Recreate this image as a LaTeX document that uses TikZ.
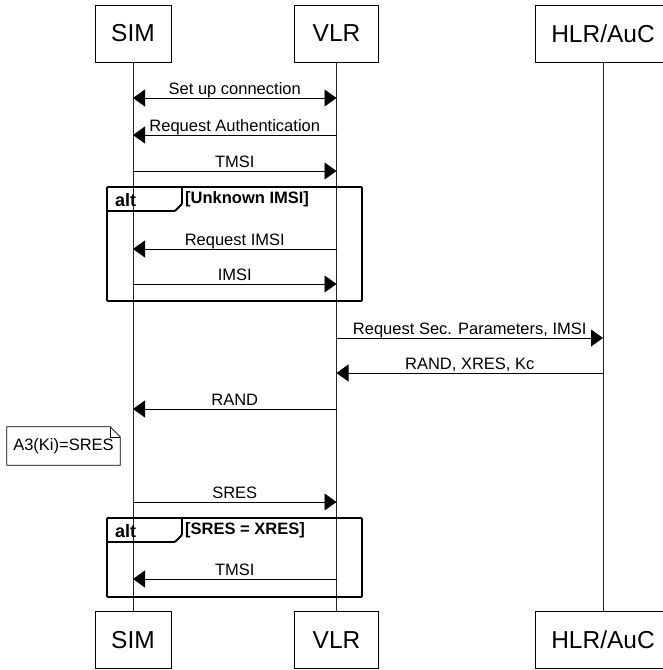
\documentclass[tikz,border=0pt]{standalone}
\usepackage{fontspec}
\setmainfont{Liberation Sans}
\usetikzlibrary{arrows.meta}

\tikzset{
  actor/.style={draw, line width=0.8pt, minimum height=57pt, inner sep=0pt, font=\fontsize{24.5pt}{28pt}\selectfont},
  lifeline/.style={line width=0.8pt, black!85},
  msg/.style={line width=0.9pt},
  msglabel/.style={anchor=base, inner sep=0pt, font=\fontsize{16.5pt}{19pt}\selectfont},
  frame/.style={line width=1.8pt, rounded corners=1pt},
  altlabel/.style={anchor=base west, inner sep=0pt, font=\bfseries\fontsize{18pt}{20pt}\selectfont},
  guard/.style={anchor=base west, inner sep=0pt, font=\bfseries\fontsize{16.5pt}{19pt}\selectfont},
  notebox/.style={minimum width=113pt, minimum height=38pt, inner sep=0pt, font=\fontsize{16.5pt}{19pt}\selectfont},
}

\begin{document}
\begin{tikzpicture}[x=1pt,y=-1pt,>={Triangle[length=12pt,width=17pt]}]
  \useasboundingbox (0,0) rectangle (663,670);

  % participants on top and bottom, with their lifelines
  \foreach \name/\txt/\xc/\w in {sim/SIM/133/76, vlr/VLR/336.5/84, hlr/{HLR/AuC}/603/136} {
    \node[actor, minimum width=\w pt] (\name) at (\xc,33.5) {\txt};
    \node[actor, minimum width=\w pt] (\name-bot) at (\xc,640) {\txt};
    \draw[lifeline] (\name.south) -- (\name-bot.north);
  }

  % the two alt fragments
  \foreach \top/\bot/\cond [count=\i] in {187/301/Unknown IMSI, 518/597/SRES = XRES} {
    \draw[frame] (107,\top) rectangle (362,\bot);
    \draw[frame] (107,\top+24) -- (175,\top+24) -- (182,\top+17) -- (182,\top);
    \node[altlabel] (alt\i) at (115,\top+19) {alt};
    \node[guard] (guard\i) at (185,\top+16.5) {[\cond]};
  }

  % messages, drawn from sender to receiver
  \draw[msg, <->] (sim |- 0,98) -- (vlr |- 0,98)
    node[msglabel, midway, yshift=4pt] (m0) {Set up connection};
  \foreach \y/\from/\to/\txt [count=\i] in {
    135/vlr/sim/Request Authentication,
    171/sim/vlr/TMSI,
    249/vlr/sim/Request IMSI,
    284/sim/vlr/IMSI,
    338/vlr/hlr/{Request Sec. Parameters, IMSI},
    373/hlr/vlr/{RAND, XRES, Kc},
    409/vlr/sim/RAND,
    502/sim/vlr/SRES,
    579/vlr/sim/TMSI
  } {
    \draw[msg, ->] (\from |- 0,\y) -- (\to |- 0,\y)
      node[msglabel, midway, yshift=4pt] (m\i) {\txt};
  }

  % note left of SIM
  \node[notebox] (note) at (63.5,446) {A3(Ki)=SRES};
  \draw[line width=0.8pt] (note.north west) -- ([xshift=-10pt]note.north east)
    -- ([yshift=-10pt]note.north east) -- (note.south east) -- (note.south west) -- cycle;
  \draw[line width=0.6pt] ([xshift=-10pt]note.north east) -- ([xshift=-10pt,yshift=-10pt]note.north east)
    -- ([yshift=-10pt]note.north east);
\end{tikzpicture}
\end{document}
